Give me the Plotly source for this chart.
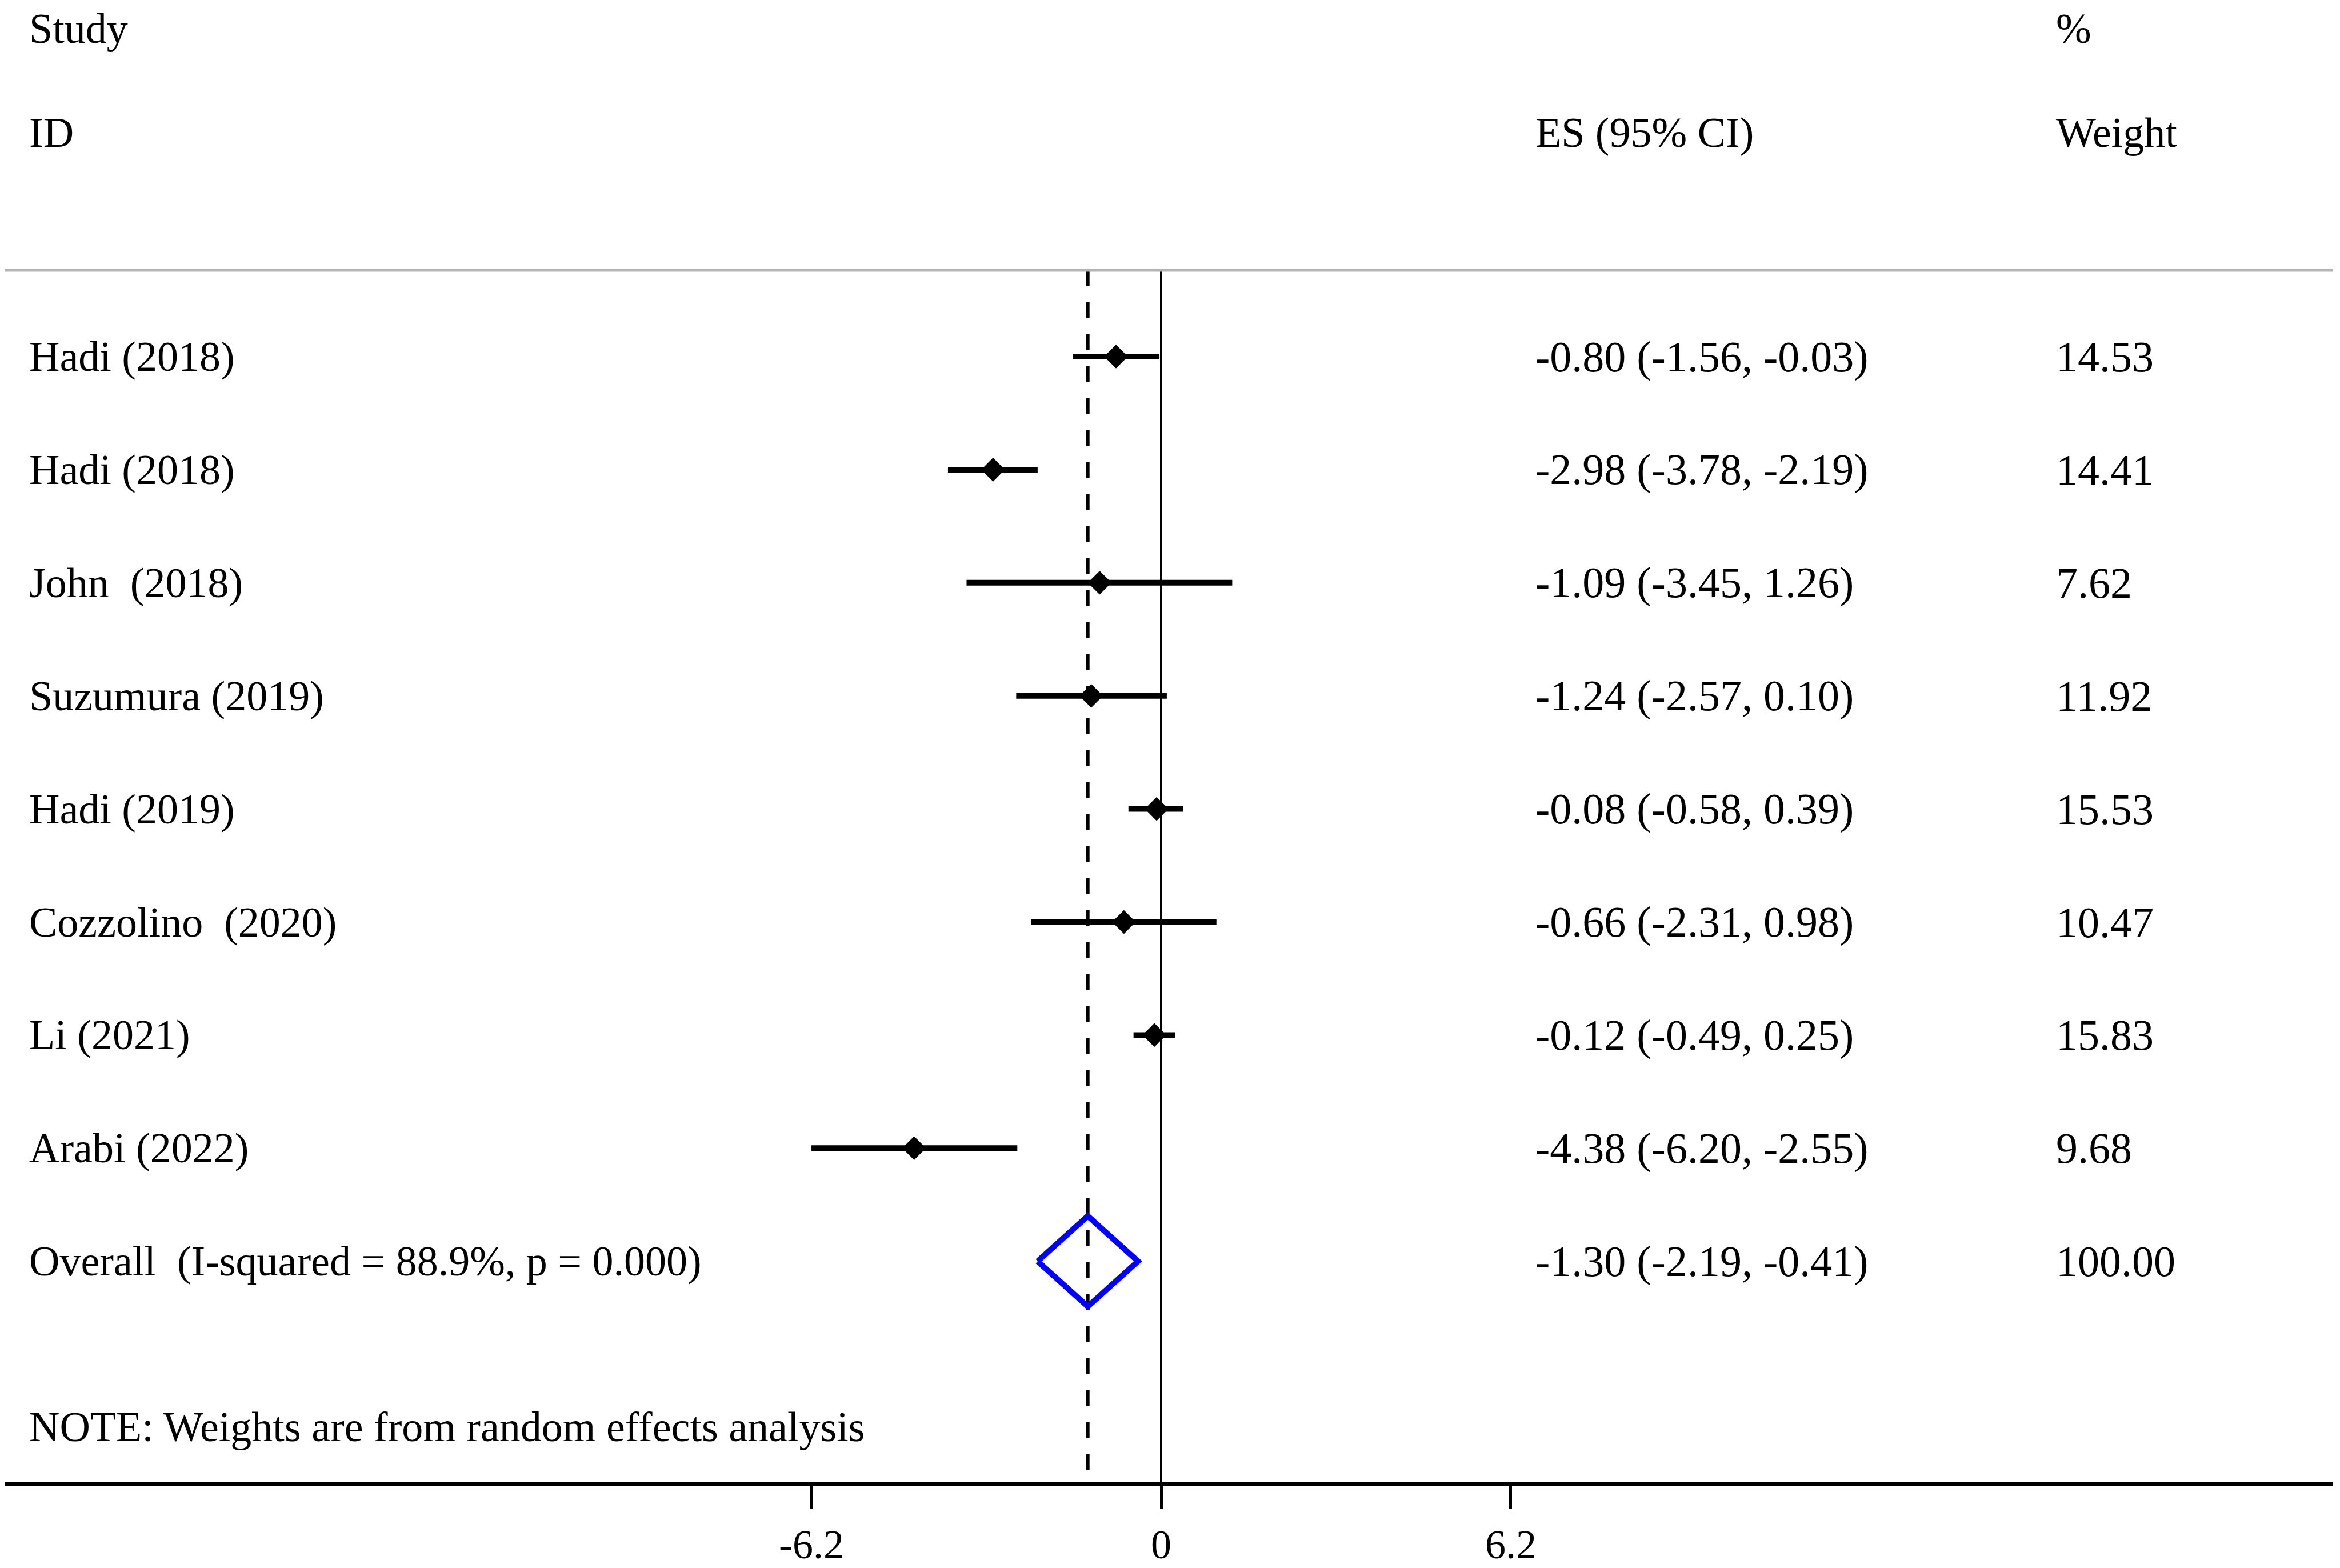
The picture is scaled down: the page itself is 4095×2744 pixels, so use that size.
import plotly.graph_objects as go

# study rows
studies = ["Hadi (2018)", "Hadi (2018)", "John\u00a0 (2018)", "Suzumura (2019)", "Hadi (2019)",
           "Cozzolino\u00a0 (2020)", "Li (2021)", "Arabi (2022)"]
es = [-0.80, -2.98, -1.09, -1.24, -0.08, -0.66, -0.12, -4.38]
ci_low = [-1.56, -3.78, -3.45, -2.57, -0.58, -2.31, -0.49, -6.20]
ci_high = [-0.03, -2.19, 1.26, 0.10, 0.39, 0.98, 0.25, -2.55]
weights = [14.53, 14.41, 7.62, 11.92, 15.53, 10.47, 15.83, 9.68]

# pooled estimate
overall_label = "Overall\u00a0 (I-squared = 88.9%, p = 0.000)"
overall_es = -1.30
overall_low = -2.19
overall_high = -0.41
overall_weight = 100.00

note = "NOTE: Weights are from random effects analysis"
tick_vals = [-6.2, 0, 6.2]
tick_text = ["-6.2", "0", "6.2"]

FONT = "Liberation Serif, Times New Roman, serif"
FS = 74
FS_NUM = 76
OFF = 8  # page body margin
W, H = 4095 - OFF, 2744 - OFF
AXIS_PX = 2594 - OFF
MR = 12
MB = H - AXIS_PX
PX_PER_UNIT = 98.7
ZERO_PX = 2032 - OFF
plot_w = W - MR
x_range = [-ZERO_PX / PX_PER_UNIT, (plot_w - ZERO_PX) / PX_PER_UNIT]

ROW0_PX, ROW_STEP = 624, 197.9


def row(px):
    return (px - ROW0_PX) / ROW_STEP


def col(px):
    # screen px -> paper fraction (annotation adds ~3px padding)
    return (px - OFF - 3) / plot_w


y_range = [row(AXIS_PX + OFF), row(OFF)]
line_top = row(473)
overall_row = len(studies)

fig = go.Figure()

# CI lines
cx, cy = [], []
for i, (lo, hi) in enumerate(zip(ci_low, ci_high)):
    cx += [lo, hi, None]
    cy += [i, i, None]
fig.add_trace(go.Scatter(x=cx, y=cy, mode="lines", line=dict(color="black", width=10),
                         hoverinfo="skip", showlegend=False))

# point estimates
fig.add_trace(go.Scatter(x=es, y=list(range(len(es))), mode="markers",
                         marker=dict(symbol="diamond", size=32, color="black"),
                         showlegend=False))

# overall diamond
dh = 0.4
fig.add_trace(go.Scatter(
    x=[overall_low, overall_es, overall_high, overall_es, overall_low],
    y=[overall_row, overall_row - dh, overall_row, overall_row + dh, overall_row],
    mode="lines", line=dict(color="#0000ff", width=10), showlegend=False))

# reference lines
fig.add_shape(type="line", xref="x", yref="y", x0=0, x1=0, y0=line_top, y1=y_range[0],
              line=dict(color="black", width=4), layer="below")
fig.add_shape(type="line", xref="x", yref="y", x0=overall_es, x1=overall_es,
              y0=line_top, y1=y_range[0],
              line=dict(color="black", width=6, dash="27px,29px"), layer="below")
fig.add_shape(type="line", xref="paper", yref="y", x0=0, x1=1, y0=line_top, y1=line_top,
              line=dict(color="#b4b4b4", width=5))

col_label = col(52)
col_es = col(2688)
col_wt = col(3599)


def txt(x, y, s, size=FS):
    fig.add_annotation(x=x, y=y, xref="paper", yref="y", text=s, showarrow=False,
                       xanchor="left", yanchor="middle",
                       font=dict(family=FONT, size=size, color="black"))


txt(col_label, row(50), "Study")
txt(col_label, row(232), "ID")
txt(col_es, row(232), "ES (95% CI)")
txt(col_wt, row(50), "%")
txt(col_wt, row(232), "Weight")

for i in range(len(studies)):
    txt(col_label, i, studies[i])
    txt(col_es, i, f"{es[i]:.2f} ({ci_low[i]:.2f}, {ci_high[i]:.2f})", FS_NUM)
    txt(col_wt, i, f"{weights[i]:.2f}", FS_NUM)

txt(col_label, overall_row, overall_label)
txt(col_es, overall_row, f"{overall_es:.2f} ({overall_low:.2f}, {overall_high:.2f})", FS_NUM)
txt(col_wt, overall_row, f"{overall_weight:.2f}", FS_NUM)
txt(col_label, row(2497), note)

fig.update_layout(
    width=W, height=H,
    margin=dict(l=0, r=MR, t=0, b=MB),
    plot_bgcolor="white", paper_bgcolor="white",
    showlegend=False,
    font=dict(family=FONT, size=FS, color="black"),
    xaxis=dict(range=x_range, tickvals=tick_vals, ticktext=tick_text, ticks="outside",
               ticklen=40, tickwidth=5, tickcolor="black", showline=True, linewidth=7,
               linecolor="black", showgrid=False, zeroline=False, ticklabelstandoff=0,
               automargin=False, tickfont=dict(family=FONT, size=72, color="black")),
    yaxis=dict(range=y_range, visible=False, showgrid=False, zeroline=False, automargin=False),
)

fig.write_html("out.html")
